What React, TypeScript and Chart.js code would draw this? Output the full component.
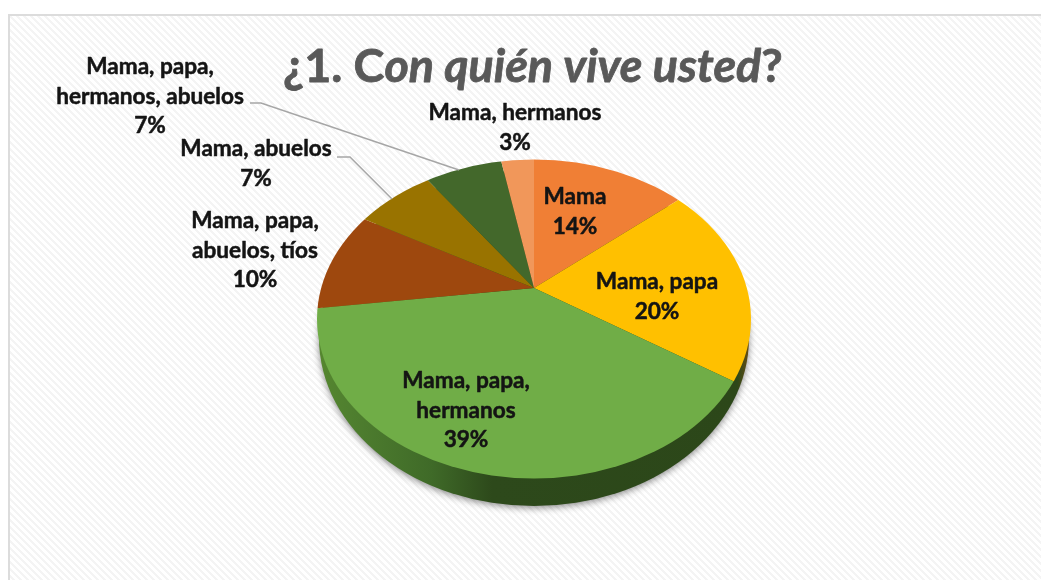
import React, { useEffect, useRef } from "react";
import { Chart, registerables } from "chart.js";

Chart.register(...registerables);

const categories = [
  ["Mama"],
  ["Mama, papa"],
  ["Mama, papa,", "hermanos"],
  ["Mama, papa,", "abuelos, tíos"],
  ["Mama, abuelos"],
  ["Mama, papa,", "hermanos, abuelos"],
  ["Mama, hermanos"],
];
const shares = [14, 20, 39, 10, 7, 7, 3];
const sliceColors = ["#F07F35", "#FFC000", "#70AD47", "#9E480E", "#997300", "#43682B", "#F1975A"];
const labelCenters = [
  [575, 197],
  [657, 282],
  [466, 381],
  [255, 221],
  [256, 149],
  [150, 67],
  [515, 113],
];
const leaderLines = [
  [[337, 157], [350, 157], [392, 199]],
  [[250, 103], [261, 103], [459, 170]],
];
const titleParts = [
  { text: "¿1. C", italic: false },
  { text: "on quién vive usted", italic: true },
  { text: "?", italic: false },
];

const FAMILY = "Lato, Carlito, 'Open Sans', sans-serif";
const APEX_Y = 288;
const SQUASH = 160 / 217;

const piePlugin = {
  id: "pie3d",
  beforeDraw(chart: any) {
    const { ctx, width, height } = chart;
    ctx.save();
    ctx.fillStyle = "#ffffff";
    ctx.fillRect(0, 0, width, height);
    const tile = document.createElement("canvas");
    tile.width = 7;
    tile.height = 7;
    const t = tile.getContext("2d")!;
    t.fillStyle = "#ffffff";
    t.fillRect(0, 0, 7, 7);
    t.fillStyle = "#f4f4f4";
    for (let i = 0; i < 7; i++) {
      t.fillRect(i, i, 3, 1);
      t.fillRect(i - 7, i, 3, 1);
    }
    ctx.fillStyle = ctx.createPattern(tile, "repeat");
    ctx.fillRect(10, 16, width - 10, height - 16);
    ctx.fillStyle = "#dcdcdc";
    ctx.fillRect(8, 14, width - 8, 2);
    ctx.fillRect(8, 14, 2, height - 14);
    ctx.restore();
  },
  beforeDatasetsDraw(chart: any) {
    const { ctx } = chart;
    const arc = chart.getDatasetMeta(0).data[0];
    // side wall of the disc, drawn below the top face
    ctx.save();
    const grad = ctx.createLinearGradient(320, 0, 750, 0);
    grad.addColorStop(0, "#55862f");
    grad.addColorStop(0.07, "#4f7f2f");
    grad.addColorStop(0.26, "#3f6a28");
    grad.addColorStop(0.4, "#2d491b");
    grad.addColorStop(0.97, "#2c4719");
    grad.addColorStop(1, "#6b4e12");
    ctx.shadowColor = "rgba(0,0,0,0.45)";
    ctx.shadowBlur = 7;
    ctx.shadowOffsetY = 2;
    ctx.fillStyle = grad;
    ctx.beginPath();
    ctx.ellipse(arc.x, 338, 215, 168, 0, 0, Math.PI * 2);
    ctx.fill();
    ctx.restore();
    // top face: perspective puts the apex above the centre of the rim ellipse
    ctx.save();
    ctx.beginPath();
    ctx.ellipse(arc.x, 319, 217, 159.5, 0, 0, Math.PI * 2);
    ctx.clip();
    ctx.translate(0, APEX_Y);
    ctx.scale(1, SQUASH);
    ctx.translate(0, -arc.y);
  },
  afterDatasetsDraw(chart: any) {
    chart.ctx.restore();
  },
  afterDraw(chart: any) {
    const { ctx } = chart;
    ctx.save();
    ctx.strokeStyle = "#a6a6a6";
    ctx.lineWidth = 1.5;
    leaderLines.forEach((pts) => {
      ctx.beginPath();
      pts.forEach(([x, y], i) => (i ? ctx.lineTo(x, y) : ctx.moveTo(x, y)));
      ctx.stroke();
    });

    ctx.lineJoin = "round";
    ctx.textBaseline = "middle";
    ctx.textAlign = "center";
    ctx.font = `bold 22.6px ${FAMILY}`;
    ctx.fillStyle = "#141414";
    ctx.strokeStyle = "#141414";
    ctx.lineWidth = 0.5;
    categories.forEach((lines, i) => {
      const [cx, cy] = labelCenters[i];
      [...lines, `${shares[i]}%`].forEach((line, j) => {
        ctx.fillText(line, cx, cy + j * 29.3);
        ctx.strokeText(line, cx, cy + j * 29.3);
      });
    });

    ctx.textAlign = "left";
    ctx.textBaseline = "alphabetic";
    ctx.fillStyle = "#595959";
    ctx.strokeStyle = "#595959";
    ctx.lineWidth = 0.8;
    let x = 283;
    titleParts.forEach((part) => {
      ctx.font = `${part.italic ? "italic " : ""}bold 46.6px ${FAMILY}`;
      ctx.fillText(part.text, x, 82);
      ctx.strokeText(part.text, x, 82);
      x += ctx.measureText(part.text).width;
    });
    ctx.restore();
  },
};

export default function App() {
  const ref = useRef<HTMLCanvasElement>(null);
  useEffect(() => {
    const chart = new Chart(ref.current!, {
      type: "pie",
      data: {
        labels: categories.map((c) => c.join(" ")),
        datasets: [
          {
            data: shares,
            backgroundColor: sliceColors,
            borderWidth: 0,
            radius: 300,
            clip: false,
          },
        ],
      },
      options: {
        responsive: false,
        animation: false,
        layout: { padding: { left: 27 } },
        plugins: { legend: { display: false }, tooltip: { enabled: false }, title: { display: false } },
      },
      plugins: [piePlugin],
    } as any);
    return () => chart.destroy();
  }, []);
  return (
    <canvas
      ref={ref}
      width={1041}
      height={580}
      style={{ position: "fixed", left: 0, top: 0, display: "block" }}
    />
  );
}
